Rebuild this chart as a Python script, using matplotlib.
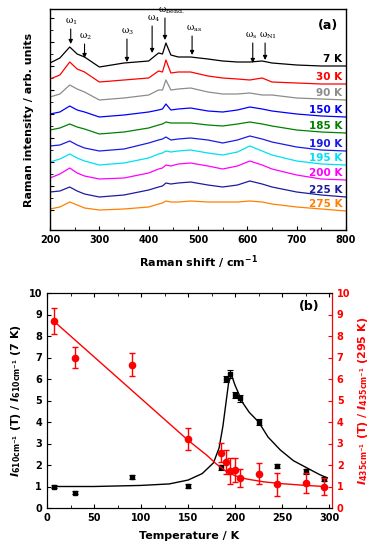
import numpy as np
import matplotlib
matplotlib.use('Agg')
import matplotlib.pyplot as plt

plt.rcParams['font.family'] = ['DejaVu Sans']
plt.rcParams['font.weight'] = 'bold'

# ---------------- panel (a): Raman spectra ----------------
shift = [200, 220, 240, 255, 270, 300, 350, 400, 420, 428, 435, 445, 460,
         485, 520, 550, 580, 605, 630, 650, 700, 750, 800]
temps_a = ['7 K', '30 K', '90 K', '150 K', '185 K', '190 K', '195 K',
           '200 K', '225 K', '275 K']
offsets = [164, 146, 130, 113, 97, 79, 65, 50, 33, 19]
colors_a = ['#000000', '#ff0000', '#8c8c8c', '#0000ff', '#008000',
            '#1a1ae6', '#00e0f0', '#ff00ff', '#1c1ca0', '#ff8000']
spec_7 = [3, 8, 19, 12, 9, -1, 3, 5, 13, 12, 23, 11, 9, 9, 7, 5, 4, 4, 5, 3, 1, 0, 0]
spec_30 = [5, 9, 22, 15, 12, 2, 4, 6, 13, 12, 24, 11, 12, 12, 8, 6, 5, 4, 6, 2, 1, 0, 0]
spec_90 = [3, 6, 15, 11, 8, 0, 2, 5, 10, 10, 20, 10, 11, 12, 8, 6, 6, 7, 5, 5, 2, 1, 0]
spec_150 = [3, 5, 11, 7, 5, 0, 2, 5, 7, 8, 13, 7, 8, 9, 6, 5, 7, 10, 8, 6, 3, 1, 0]
spec_185 = [3, 5, 9, 6, 4, -1, 1, 5, 8, 9, 11, 10, 10, 10, 8, 7, 9, 11, 9, 7, 3, 1, 0]
spec_190 = [5, 6, 10, 6, 3, 0, 2, 8, 11, 12, 14, 11, 12, 13, 11, 8, 11, 15, 12, 9, 4, 1, 0]
spec_195 = [3, 6, 11, 7, 4, 0, 2, 7, 11, 12, 14, 13, 14, 15, 12, 10, 13, 19, 14, 10, 4, 1, 0]
spec_200 = [2, 6, 12, 7, 4, 1, 2, 7, 11, 12, 15, 14, 16, 17, 14, 11, 14, 19, 15, 11, 5, 1, 0]
spec_225 = [5, 6, 10, 6, 3, 0, 2, 7, 10, 11, 14, 13, 14, 15, 12, 10, 12, 16, 13, 10, 5, 2, 0]
spec_275 = [2, 4, 9, 6, 3, 1, 2, 4, 7, 8, 10, 9, 9, 10, 9, 9, 9, 10, 9, 7, 4, 2, 0]
spectra = [spec_7, spec_30, spec_90, spec_150, spec_185, spec_190, spec_195,
           spec_200, spec_225, spec_275]

# mode markers: label, arrow position, label position, label height, arrow tip
modes = [r'$\mathregular{\omega_1}$', r'$\mathregular{\omega_2}$',
         r'$\mathregular{\omega_3}$', r'$\mathregular{\omega_4}$',
         r'$\mathregular{\omega_{bend.}}$', r'$\mathregular{\omega_{as}}$',
         r'$\mathregular{\omega_s}$', r'$\mathregular{\omega_{N1}}$']
mode_pos = [242, 270, 356, 407, 433, 488, 611, 636]
mode_lab_x = [244, 272, 358, 410, 446, 493, 608, 642]
mode_lab_y = [203, 188, 193, 206, 214, 196, 189, 189]
mode_tip_y = [186, 172, 168, 177, 190, 175, 167, 170]

# ---------------- panel (b): intensity ratios ----------------
T = [7, 30, 90, 150, 185, 190, 195, 200, 205, 225, 245, 275, 295]
r610 = [1.0, 0.72, 1.43, 1.02, 1.9, 6.0, 6.22, 5.25, 5.1, 4.0, 1.95, 1.7, 1.35]
e610 = [0.08, 0.06, 0.1, 0.08, 0.12, 0.15, 0.18, 0.15, 0.15, 0.12, 0.08, 0.1, 0.1]
r435 = [8.7, 7.0, 6.67, 3.22, 2.57, 2.15, 1.72, 1.78, 1.4, 1.6, 1.1, 1.17, 1.0]
e435 = [0.6, 0.5, 0.52, 0.5, 0.45, 0.55, 0.62, 0.55, 0.42, 0.48, 0.55, 0.48, 0.38]

fit610_T = [7, 50, 100, 130, 150, 165, 177, 183, 187, 190, 193, 196, 200,
            208, 215, 225, 235, 248, 262, 277, 290, 298]
fit610_y = [1.0, 1.0, 1.05, 1.12, 1.3, 1.6, 2.1, 2.8, 3.8, 4.8, 5.8, 6.2, 5.7,
            4.9, 4.45, 4.0, 3.3, 2.7, 2.2, 1.85, 1.55, 1.4]
fit435_T = [7, 150, 170, 180, 190, 200, 212, 230, 250, 275, 295]
fit435_y = [8.7, 3.15, 2.45, 2.05, 1.72, 1.5, 1.35, 1.22, 1.13, 1.05, 1.0]

fig = plt.figure(figsize=(3.81, 5.5), dpi=100)

# ---- (a)
ax1 = fig.add_axes([50/381, 1 - 230/550, 296/381, 221/550])
for lab, off, col, sp in zip(temps_a, offsets, colors_a, spectra):
    ax1.plot(shift, np.array(sp) + off, color=col, lw=0.9)
    ax1.text(792, off + 2, lab, color=col, ha='right', va='bottom',
             fontsize=7.5, fontweight='bold')
for m, x, lx, ly, ty in zip(modes, mode_pos, mode_lab_x, mode_lab_y, mode_tip_y):
    ax1.annotate('', xy=(x, ty), xytext=(x, ly - 2),
                 arrowprops=dict(arrowstyle='-|>', color='k', lw=0.8,
                                 mutation_scale=6, shrinkA=0, shrinkB=0))
    ax1.text(lx, ly, m, ha='center', va='bottom', fontsize=6.5,
             family='DejaVu Serif', fontweight='normal')
ax1.text(785, 205, '(a)', ha='right', va='center', fontsize=9,
         fontweight='bold')
ax1.set_xlim(200, 800)
ax1.set_ylim(0, 221)
ax1.set_xticks(np.arange(200, 801, 100))
ax1.set_xticks(np.arange(250, 800, 100), minor=True)
ax1.set_yticks(np.arange(20, 221, 24))
ax1.set_yticks(np.arange(32, 221, 24), minor=True)
ax1.set_yticklabels([])
ax1.tick_params(direction='in', labelsize=7, length=3, width=0.8)
ax1.tick_params(which='minor', direction='in', length=2, width=0.6)
ax1.set_xlabel(r'Raman shift / cm$^{\mathbf{-1}}$', fontsize=8,
               fontweight='bold', labelpad=6)
ax1.set_ylabel('Raman intensity / arb. units', fontsize=8,
               fontweight='bold', labelpad=8)
for s in ax1.spines.values():
    s.set_linewidth(1.0)

# ---- (b)
ax2 = fig.add_axes([47/381, 1 - 508/550, 285/381, 215/550])
ax3 = ax2.twinx()
ax2.plot(fit610_T, fit610_y, color='k', lw=1.0)
ax2.errorbar(T, r610, yerr=e610, fmt='s', color='k', ms=3.5, capsize=2,
             elinewidth=0.8, capthick=0.8)
ax3.plot(fit435_T, fit435_y, color='red', lw=1.0)
ax3.errorbar(T, r435, yerr=e435, fmt='o', color='red', ms=4.5, capsize=2,
             elinewidth=1.0, capthick=1.0)
ax2.set_xlim(0, 303)
ax2.set_ylim(0, 10)
ax3.set_ylim(0, 10)
ax2.set_xticks(np.arange(0, 301, 50))
ax2.set_xticks(np.arange(25, 301, 50), minor=True)
ax2.set_yticks(np.arange(0, 11, 1))
ax3.set_yticks(np.arange(0, 11, 1))
ax2.tick_params(direction='in', labelsize=7, length=3, width=0.8,
                top=True)
ax2.tick_params(which='minor', direction='in', length=2, width=0.6,
                top=True)
ax3.tick_params(direction='in', labelsize=7, length=3, width=0.8,
                colors='red')
for lab in ax2.get_xticklabels() + ax2.get_yticklabels() + ax3.get_yticklabels():
    lab.set_fontweight('bold')
for lab in ax1.get_xticklabels():
    lab.set_fontweight('bold')
ax3.spines['right'].set_color('red')
ax2.set_xlabel('Temperature / K', fontsize=8, fontweight='bold', labelpad=6)
ax2.set_ylabel(r'$\mathbfit{I}_{\mathbf{610cm}^{\mathbf{-1}}}$ (T) / '
               r'$\mathbfit{I}_{\mathbf{610cm}^{\mathbf{-1}}}$ (7 K)',
               fontsize=8, fontweight='bold', labelpad=4)
ax3.set_ylabel(r'$\mathbfit{I}_{\mathbf{435cm}^{\mathbf{-1}}}$ (T) / '
               r'$\mathbfit{I}_{\mathbf{435cm}^{\mathbf{-1}}}$ (295 K)',
               fontsize=8, fontweight='bold', color='red', labelpad=4)
ax2.text(290, 9.35, '(b)', ha='right', va='center', fontsize=9,
         fontweight='bold')

fig.savefig('out.png', dpi=100)
